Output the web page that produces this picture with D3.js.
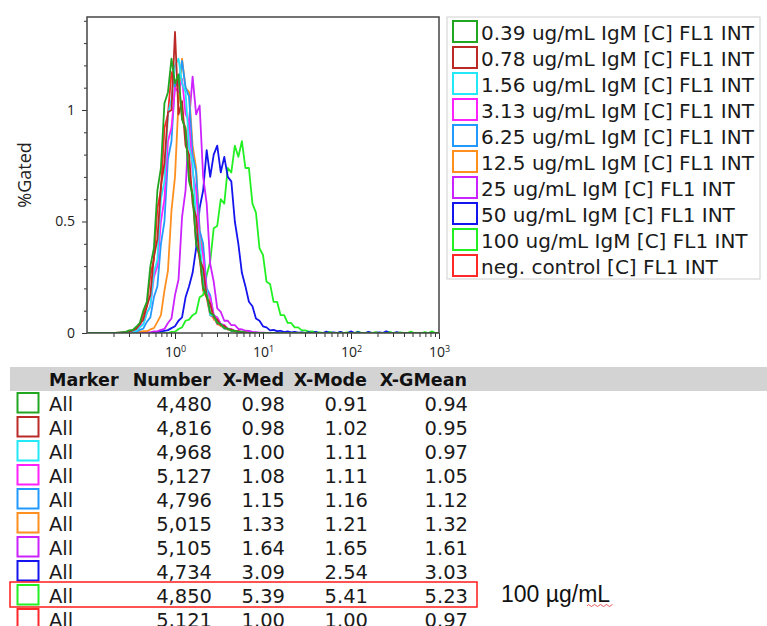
<!DOCTYPE html>
<html>
<head>
<meta charset="utf-8">
<script src="https://cdn.jsdelivr.net/npm/d3@7"></script>
<style>
  body { margin: 0; background: #fff; }
  svg { display: block; }
</style>
</head>
<body>
<svg id="chart" width="767" height="626"></svg>
<script>
// legend / series
const seriesNames = [
    "0.39 ug/mL IgM [C] FL1 INT", "0.78 ug/mL IgM [C] FL1 INT", "1.56 ug/mL IgM [C] FL1 INT",
    "3.13 ug/mL IgM [C] FL1 INT", "6.25 ug/mL IgM [C] FL1 INT", "12.5 ug/mL IgM [C] FL1 INT",
    "25 ug/mL IgM [C] FL1 INT", "50 ug/mL IgM [C] FL1 INT", "100 ug/mL IgM [C] FL1 INT",
    "neg. control [C] FL1 INT"
];
const seriesColors = ["#22a622", "#bb2a26", "#22e8f8", "#ff22ff", "#2299ff", "#ff9020", "#cc22ff", "#1414ee", "#22f022", "#ff2828"];

// histogram bins: log10 start of each series, bin width 0.04 decade
const binStep = 0.04;
const seriesStart = [-0.64, -0.64, -0.64, -0.64, -0.64, -0.64, -0.64, -0.24, -0.04, -0.64];

const h039 = [0.002,0.004,0.005,0.012,0.014,0.028,0.045,0.1,0.14,0.3,0.38,0.64,0.74,1.03,1.08,1.23,1.12,1.16,0.96,0.91,0.68,0.62,0.4,0.35,0.2,0.17,0.09,0.08,0.045,0.04,0.022,0.02,0.01,0.01,0.005,0.006,0.002];
const h078 = [0.002,0.002,0.005,0.006,0.012,0.018,0.04,0.06,0.12,0.17,0.34,0.42,0.66,0.76,0.99,1.0,1.35,0.98,1.04,0.84,0.8,0.58,0.52,0.33,0.29,0.16,0.13,0.07,0.06,0.035,0.032,0.017,0.015,0.008,0.008,0.004,0.003];
const h156 = [0.001,0.002,0.004,0.004,0.008,0.01,0.025,0.038,0.09,0.12,0.27,0.33,0.6,0.68,0.98,1.05,1.2,1.23,1.12,1.08,0.84,0.76,0.5,0.42,0.23,0.19,0.08,0.075,0.045,0.04,0.02,0.02,0.01,0.009,0.005,0.004,0.002];
const h313 = [0.001,0.002,0.004,0.004,0.01,0.012,0.03,0.04,0.09,0.12,0.25,0.3,0.5,0.6,0.86,0.92,1.1,1.08,1.14,0.98,0.95,0.72,0.64,0.42,0.35,0.19,0.16,0.08,0.07,0.04,0.035,0.02,0.018,0.009,0.008,0.004,0.003];
const h625 = [0.001,0.001,0.003,0.002,0.005,0.005,0.014,0.02,0.05,0.07,0.16,0.21,0.4,0.5,0.78,0.86,1.12,1.12,1.22,1.1,1.06,0.8,0.72,0.46,0.4,0.2,0.17,0.08,0.07,0.04,0.035,0.016,0.015,0.008,0.006,0.003,0.002];
const h125 = [0,0,0.001,0.002,0.002,0.004,0.005,0.008,0.008,0.016,0.022,0.05,0.08,0.19,0.28,0.55,0.7,1.04,1.23,1.1,1.08,0.84,0.74,0.46,0.36,0.18,0.14,0.06,0.055,0.03,0.03,0.015,0.014,0.006,0.007,0.003,0.003];
const h25 = [0,0,0.001,0.001,0.002,0.001,0.002,0.002,0.004,0.003,0.007,0.007,0.014,0.018,0.045,0.065,0.17,0.24,0.52,0.64,0.95,1.15,0.98,1.02,0.7,0.58,0.31,0.23,0.11,0.095,0.055,0.055,0.035,0.035,0.018,0.016,0.01,0.009,0.005,0.004,0.002,0.002];
const h50 = [0.003,0.004,0.007,0.01,0.013,0.022,0.03,0.055,0.07,0.16,0.21,0.27,0.38,0.56,0.64,0.82,0.7,0.8,0.84,0.72,0.79,0.7,0.68,0.5,0.4,0.27,0.21,0.14,0.12,0.065,0.055,0.03,0.025,0.012,0.014,0.008,0.01,0.004,0.007,0.003,0.005,0.002,
    0.003,0,0.004,0,0.005,0,0,0.006,0,0.003,0,0.005,0,0,0.007,0,0.004,0,0,0.005,0,0,0.003,0,0.008,0,0,0.004,0,0];
const h100 = [0.005,0.006,0.018,0.025,0.055,0.06,0.08,0.09,0.16,0.17,0.26,0.32,0.47,0.48,0.6,0.58,0.74,0.72,0.84,0.79,0.86,0.74,0.74,0.58,0.54,0.38,0.35,0.23,0.22,0.14,0.14,0.08,0.08,0.045,0.045,0.025,0.025,0.012,0.012,0.006,0.007,0.003,
    0.003,0,0.002,0.005,0,0,0.004,0,0.003,0,0,0.006,0,0,0.003,0,0.004,0,0,0,0.005,0,0,0.003,0,0,0.006,0,0,0,0.004,0,0.007,0,0,0.003,0,0,0.005,0,0.004,0,0];
const hNeg = [0.001,0.002,0.004,0.007,0.009,0.024,0.035,0.085,0.12,0.26,0.33,0.56,0.64,0.92,0.98,1.17,1.1,1.14,0.96,0.92,0.7,0.62,0.4,0.34,0.19,0.16,0.08,0.07,0.04,0.035,0.02,0.018,0.01,0.009,0.004,0.005,0.002];
const seriesValues = [h039, h078, h156, h313, h625, h125, h25, h50, h100, hNeg];

// axis ticks
const xTicks = [1, 10, 100, 1000];
const yTicks = [0, 0.5, 1];

// statistics table
const tableHeaders = ["Marker", "Number", "X-Med", "X-Mode", "X-GMean"];
const markerNames = ["All", "All", "All", "All", "All", "All", "All", "All", "All", "All"];
const eventCounts = [4480, 4816, 4968, 5127, 4796, 5015, 5105, 4734, 4850, 5121];
const xMed = [0.98, 0.98, 1.00, 1.08, 1.15, 1.33, 1.64, 3.09, 5.39, 1.00];
const xMode = [0.91, 1.02, 1.11, 1.11, 1.16, 1.21, 1.65, 2.54, 5.41, 1.00];
const xGMean = [0.94, 0.95, 0.97, 1.05, 1.12, 1.32, 1.61, 3.03, 5.23, 0.97];
const highlightRow = 8;
const highlightNote = "100 \u00b5g/mL";

const svg = d3.select("#chart");
const axisFont = "'Open Sans', sans-serif";
const tableFont = "'DejaVu Sans', Verdana, sans-serif";

const x = d3.scaleLog().domain([0.1, 1000]).range([87, 439]);
const y = d3.scaleLinear().domain([0, 1.417]).range([333, 17]);

// ---- histogram lines ----
svg.append("clipPath").attr("id", "plotClip")
    .append("rect")
    .attr("x", x.range()[0]).attr("y", y.range()[1])
    .attr("width", x.range()[1] - x.range()[0])
    .attr("height", y.range()[0] - y.range()[1]);

function binPoints(vals, start) {
    const pts = [{ v: x.domain()[0], c: 0 }, { v: Math.pow(10, start - binStep), c: 0 }];
    vals.forEach((c, i) => pts.push({ v: Math.pow(10, start + i * binStep), c: c }));
    pts.push({ v: Math.pow(10, start + vals.length * binStep), c: 0 });
    pts.push({ v: x.domain()[1], c: 0 });
    return pts;
}

const line = d3.line().x(d => x(d.v)).y(d => y(d.c));

svg.append("g")
    .attr("clip-path", "url(#plotClip)")
    .selectAll("path")
    .data(d3.range(seriesValues.length - 1, -1, -1))
    .enter().append("path")
    .attr("fill", "none")
    .attr("stroke", i => seriesColors[i])
    .attr("stroke-width", 1.8)
    .attr("stroke-linejoin", "round")
    .attr("d", i => line(binPoints(seriesValues[i], seriesStart[i])));

// ---- axes ----
const xMinor = [];
[0.1, 1, 10, 100].forEach(dec => d3.range(2, 10).forEach(k => xMinor.push(dec * k)));

const xAxisG = svg.append("g").attr("transform", `translate(0,${y(0)})`);
xAxisG.append("g").call(d3.axisBottom(x).tickValues(xMinor).tickSize(4).tickFormat(""));
const xMajor = xAxisG.append("g").call(d3.axisBottom(x).tickValues(xTicks).tickSize(6));
xAxisG.selectAll(".domain").remove();
xAxisG.selectAll(".tick line").attr("stroke", "#333").attr("stroke-width", 1);
xMajor.selectAll(".tick text")
    .text(null)
    .attr("y", 24).attr("dy", null)
    .attr("font-family", axisFont).attr("font-size", 14).attr("fill", "#222")
    .call(t => {
        t.append("tspan").text("10");
        t.append("tspan").attr("dy", "-0.55em").attr("font-size", 9).text(d => Math.round(Math.log10(d)));
    });

const yMinor = d3.range(1, 15).map(k => k / 10).filter(v => !yTicks.includes(v));
const yAxisG = svg.append("g").attr("transform", `translate(${x.range()[0]},0)`);
yAxisG.append("g").call(d3.axisLeft(y).tickValues(yMinor).tickSize(3).tickFormat(""));
yAxisG.append("g").call(d3.axisLeft(y).tickValues(yTicks).tickSize(5).tickPadding(7).tickFormat(d3.format("~g")))
    .selectAll("text").attr("font-family", axisFont).attr("font-size", 14).attr("fill", "#222");
yAxisG.selectAll(".domain").remove();
yAxisG.selectAll(".tick line").attr("stroke", "#333");

// plot frame
svg.append("rect")
    .attr("x", x.range()[0]).attr("y", y.range()[1])
    .attr("width", x.range()[1] - x.range()[0])
    .attr("height", y.range()[0] - y.range()[1])
    .attr("fill", "none").attr("stroke", "#444").attr("stroke-width", 1.5);

svg.append("text")
    .attr("transform", `translate(31,${(y.range()[0] + y.range()[1]) / 2})rotate(-90)`)
    .attr("text-anchor", "middle")
    .attr("font-family", axisFont).attr("font-size", 18).attr("fill", "#222")
    .text("%Gated");

// ---- legend ----
const legend = svg.append("g");
legend.append("rect")
    .attr("x", 447).attr("y", 17).attr("width", 313).attr("height", 262)
    .attr("fill", "#fff").attr("stroke", "#cfcfcf").attr("stroke-width", 1);

const legendRow = d3.scaleLinear().domain([0, 1]).range([20, 46]);
const legendItem = legend.selectAll("g.item")
    .data(seriesNames)
    .enter().append("g").attr("class", "item")
    .attr("transform", (d, i) => `translate(0,${legendRow(i)})`);
legendItem.append("rect")
    .attr("x", 453).attr("y", 1).attr("width", 24).attr("height", 21)
    .attr("fill", "#fff")
    .attr("stroke", (d, i) => seriesColors[i]).attr("stroke-width", 2);
legendItem.append("text")
    .attr("x", 481).attr("y", 20)
    .attr("font-family", tableFont).attr("font-size", 20).attr("fill", "#1a1a1a")
    .text(d => d);

// ---- statistics table ----
const table = svg.append("g");
table.append("rect")
    .attr("x", 10).attr("y", 367).attr("width", 757).attr("height", 24)
    .attr("fill", "#d3d3d3");

const colRight = [null, 212, 285, 368, 468];
table.selectAll("text.hdr")
    .data(tableHeaders)
    .enter().append("text").attr("class", "hdr")
    .attr("x", (d, i) => i === 0 ? 49 : colRight[i] - 1)
    .attr("y", 386)
    .attr("text-anchor", (d, i) => i === 0 ? "start" : "end")
    .attr("font-family", tableFont).attr("font-size", 17.5).attr("font-weight", "bold").attr("fill", "#111")
    .text(d => d);

const rowY = d3.scaleLinear().domain([0, 1]).range([411, 435]);
const fmt2 = d3.format(".2f");
const fmtCount = d3.format(",");
const rows = table.selectAll("g.row")
    .data(d3.range(eventCounts.length))
    .enter().append("g").attr("class", "row")
    .attr("transform", i => `translate(0,${rowY(i)})`);

rows.append("rect")
    .attr("x", 17.5).attr("y", -18).attr("width", 21).attr("height", 19.5)
    .attr("fill", "#fff")
    .attr("stroke", i => seriesColors[i]).attr("stroke-width", 2);

const cellText = [
    i => markerNames[i],
    i => fmtCount(eventCounts[i]),
    i => fmt2(xMed[i]),
    i => fmt2(xMode[i]),
    i => fmt2(xGMean[i])
];
cellText.forEach((f, c) => {
    rows.append("text")
        .attr("x", c === 0 ? 49 : colRight[c])
        .attr("text-anchor", c === 0 ? "start" : "end")
        .attr("font-family", tableFont).attr("font-size", 19.5).attr("fill", "#1a1a1a")
        .text(f);
});

// highlighted row + note
table.append("rect")
    .attr("x", 10).attr("y", rowY(highlightRow) - 21)
    .attr("width", 467).attr("height", 25)
    .attr("fill", "none").attr("stroke", "#ff1a1a").attr("stroke-width", 1.5);

const note = table.append("text")
    .attr("x", 501).attr("y", rowY(highlightRow) - 1)
    .attr("font-family", "'Liberation Sans', Arial, sans-serif").attr("font-size", 23).attr("fill", "#111")
    .text(highlightNote);

// spell-check squiggle under "mL"
const sq = d3.path();
sq.moveTo(587, 606);
for (let k = 0; k < 9; k++) sq.lineTo(588.5 + k * 3, k % 2 ? 606.5 : 604.5);
table.append("path").attr("d", sq.toString())
    .attr("fill", "none").attr("stroke", "#e03030").attr("stroke-width", 0.8);
</script>
</body>
</html>
